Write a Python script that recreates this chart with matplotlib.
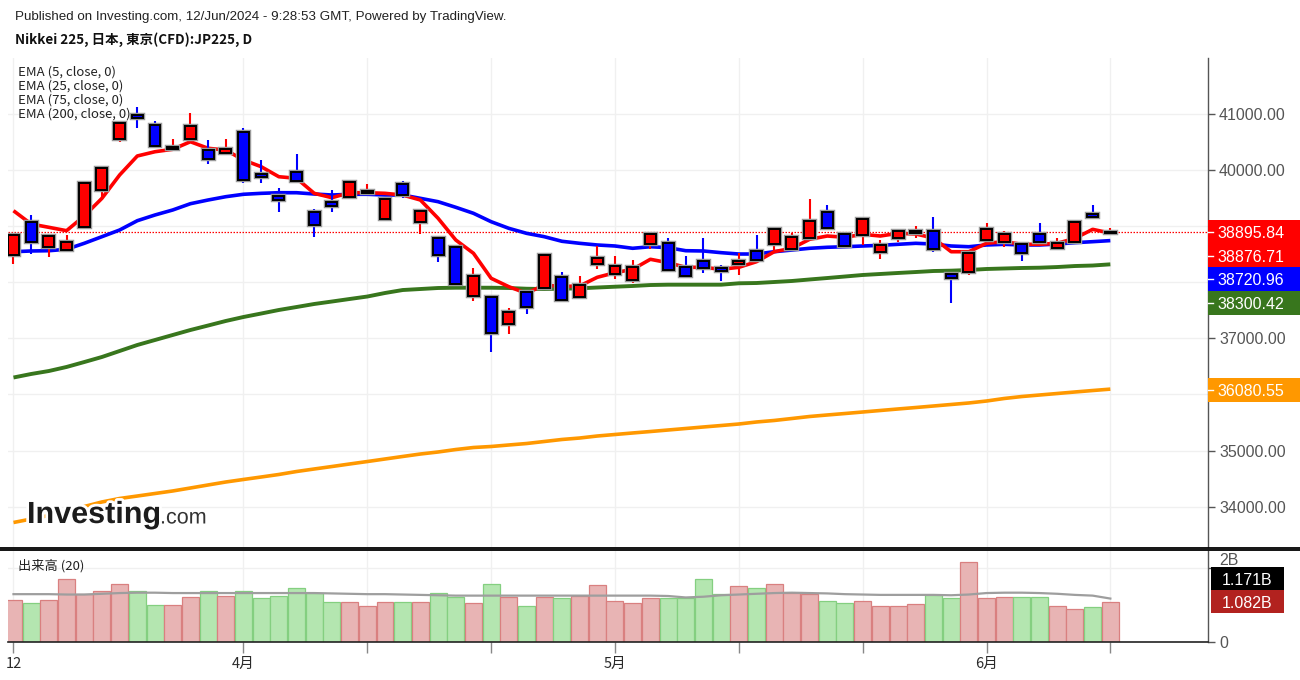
import matplotlib
matplotlib.use("Agg")
import matplotlib.pyplot as plt
from matplotlib.patches import Rectangle
from matplotlib.lines import Line2D
import matplotlib.patheffects as pe
import numpy as np

# ---------------- data ----------------
opens = [38486, 39069, 38624, 38575, 38991, 39640, 40549, 40982, 40810, 40376,
         40549, 40358, 40300, 40679, 39931, 39538, 39961, 39258, 39426, 39526,
         39592, 39123, 39747, 39069, 38784, 38624, 37761, 37743, 37251, 37821,
         37893, 38089, 37732, 38326, 38142, 38041, 38677, 38706, 38267, 38385,
         38249, 38320, 38563, 38677, 38593, 38784, 39258, 38855, 38838, 38545,
         38784, 38873, 38914, 38142, 38189, 38754, 38724, 38677, 38861, 38617,
         38724, 39212, 38870]
highs = [38879, 39200, 38843, 38843, 39800, 40043, 40845, 41130, 40876, 40549,
         41013, 40537, 40549, 40745, 40180, 39676, 40287, 39301, 39645, 39806,
         39752, 39508, 39806, 39271, 38807, 38647, 38260, 37773, 37536, 37862,
         38504, 38178, 38117, 38652, 38463, 38392, 38896, 38784, 38468, 38784,
         38308, 38517, 38843, 38980, 38873, 39485, 39378, 38902, 39164, 38754,
         38923, 39003, 39169, 38189, 38522, 39057, 38920, 38700, 39062, 38784,
         39110, 39378, 38962]
lows = [38326, 38504, 38456, 38563, 38986, 39497, 40506, 40745, 40420, 40368,
        40537, 40103, 40287, 39765, 39765, 39248, 39788, 38813, 39248, 39520,
        39556, 39110, 39497, 38855, 38367, 37951, 37671, 36762, 37078, 37429,
        37880, 37666, 37696, 38231, 38064, 37992, 38588, 38210, 38103, 38160,
        38028, 38130, 38367, 38575, 38584, 38771, 38968, 38647, 38665, 38415,
        38724, 38795, 38545, 37636, 38124, 38745, 38634, 38385, 38695, 38611,
        38718, 39123, 38855]
closes = [38843, 38724, 38830, 38724, 39770, 40032, 40835, 40924, 40435, 40412,
          40786, 40193, 40382, 39818, 39872, 39467, 39800, 39016, 39360, 39793,
          39628, 39480, 39556, 39265, 38481, 37969, 38112, 37090, 37470, 37564,
          38486, 37684, 37946, 38427, 38296, 38267, 38861, 38219, 38112, 38249,
          38196, 38379, 38397, 38944, 38802, 39098, 38973, 38652, 39128, 38665,
          38914, 38914, 38588, 38082, 38517, 38944, 38861, 38517, 38724, 38695,
          39069, 39158, 38896]

ema5 = [39276, 39039, 38980, 38920, 39182, 39497, 39913, 40252, 40328, 40371,
        40506, 40389, 40358, 40180, 40061, 39882, 39854, 39586, 39508, 39597,
        39597, 39586, 39556, 39467, 39141, 38754, 38517, 38071, 37921, 37803,
        37951, 37925, 37934, 38089, 38171, 38231, 38410, 38349, 38267, 38267,
        38231, 38267, 38367, 38545, 38606, 38766, 38825, 38802, 38855, 38825,
        38873, 38861, 38789, 38545, 38545, 38695, 38724, 38677, 38677, 38695,
        38784, 38944, 38877]
ema25 = [38545, 38558, 38563, 38588, 38695, 38813, 38932, 39098, 39200, 39289,
         39401, 39467, 39526, 39569, 39586, 39597, 39597, 39574, 39556, 39569,
         39569, 39556, 39556, 39497, 39437, 39337, 39230, 39080, 38962, 38873,
         38813, 38731, 38695, 38665, 38647, 38606, 38634, 38617, 38563, 38558,
         38528, 38504, 38504, 38545, 38575, 38606, 38624, 38634, 38647, 38659,
         38677, 38695, 38682, 38647, 38634, 38665, 38677, 38665, 38665, 38682,
         38706, 38724, 38743]
ema75 = [36302, 36365, 36418, 36490, 36578, 36668, 36775, 36882, 36971, 37060,
         37149, 37229, 37310, 37381, 37443, 37506, 37559, 37613, 37657, 37702,
         37746, 37809, 37862, 37880, 37898, 37903, 37903, 37903, 37898, 37885,
         37880, 37885, 37892, 37907, 37921, 37934, 37951, 37957, 37957, 37957,
         37957, 37982, 37987, 38005, 38023, 38050, 38076, 38103, 38130, 38148,
         38166, 38183, 38201, 38207, 38219, 38237, 38246, 38255, 38260, 38272,
         38290, 38299, 38320]
ema200 = [33717, 33779, 33842, 33922, 34002, 34083, 34145, 34189, 34234, 34279,
          34332, 34386, 34439, 34484, 34528, 34573, 34626, 34671, 34715, 34760,
          34804, 34849, 34894, 34938, 34974, 35018, 35054, 35072, 35099, 35125,
          35161, 35197, 35223, 35259, 35286, 35313, 35339, 35366, 35393, 35420,
          35446, 35473, 35509, 35536, 35571, 35607, 35634, 35660, 35687, 35714,
          35741, 35767, 35794, 35821, 35848, 35883, 35928, 35963, 35990, 36017,
          36044, 36070, 36095]

volume_b = [1.135, 1.044, 1.135, 1.698, 1.281, 1.381, 1.580, 1.381, 0.999, 0.999,
            1.217, 1.381, 1.244, 1.381, 1.181, 1.244, 1.453, 1.308, 1.081, 1.081,
            0.972, 1.081, 1.081, 1.081, 1.335, 1.217, 1.044, 1.580, 1.217, 0.972,
            1.217, 1.181, 1.244, 1.535, 1.090, 1.044, 1.181, 1.181, 1.181, 1.698,
            1.290, 1.499, 1.453, 1.580, 1.308, 1.290, 1.090, 1.044, 1.090, 0.972,
            0.972, 1.017, 1.262, 1.181, 2.153, 1.181, 1.217, 1.217, 1.217, 0.972,
            0.899, 0.945, 1.082]
volume_ma_b = [1.29, 1.29, 1.29, 1.28, 1.28, 1.30, 1.32, 1.33, 1.33, 1.32,
               1.32, 1.32, 1.32, 1.32, 1.32, 1.32, 1.32, 1.32, 1.31, 1.30,
               1.29, 1.29, 1.28, 1.27, 1.26, 1.25, 1.25, 1.25, 1.25, 1.25,
               1.25, 1.25, 1.25, 1.25, 1.25, 1.25, 1.25, 1.24, 1.20, 1.22,
               1.26, 1.28, 1.30, 1.32, 1.33, 1.32, 1.31, 1.29, 1.28, 1.27,
               1.27, 1.27, 1.27, 1.26, 1.28, 1.32, 1.33, 1.33, 1.32, 1.30,
               1.27, 1.25, 1.17]

tick_index = [0, 13, 20, 27, 34, 41, 48, 55, 62]
tick_labels = ["12", "4月", "", "", "5月", "", "", "6月", ""]
price_ticks = [34000, 35000, 36000, 37000, 38000, 39000, 40000, 41000]
# labels of 36000/38000/39000 are covered by the value boxes in the reference
price_tick_labels = ["34000.00", "35000.00", "", "37000.00", "", "", "40000.00", "41000.00"]

last_labels = ["38895.84", "38876.71", "38720.96", "38300.42", "36080.55"]
last_values = [38895.84, 38876.71, 38720.96, 38300.42, 36080.55]
last_colors = ["#ff0000", "#ff0000", "#0000ff", "#38761d", "#ff9800"]
vol_labels = ["1.171B", "1.082B"]
vol_values = [1.171, 1.082]
vol_label_colors = ["#000000", "#b2221f"]

legend_lines = ["EMA (5, close, 0)", "EMA (25, close, 0)", "EMA (75, close, 0)",
                "EMA (200, close, 0)"]

# ---------------- figure ----------------
W_PX, H_PX = 1300, 680
fig = plt.figure(figsize=(13, 6.8), dpi=100)
fig.patch.set_facecolor("white")

def fx(px):
    return px / W_PX

def fy(py):
    return 1 - py / H_PX

LEFT, RIGHT = 8, 1208
MAIN_TOP, MAIN_BOT = 58, 547
VOL_TOP, VOL_BOT = 550.5, 641.5

ax = fig.add_axes([fx(LEFT), fy(MAIN_BOT), fx(RIGHT - LEFT), (MAIN_BOT - MAIN_TOP) / H_PX])
axv = fig.add_axes([fx(LEFT), fy(VOL_BOT), fx(RIGHT - LEFT), (VOL_BOT - VOL_TOP) / H_PX])

n = len(closes)
x = np.arange(n)
o = np.array(opens, float)
h = np.array(highs, float)
l = np.array(lows, float)
c = np.array(closes, float)
up = c >= o
cols = np.where(up, "#ff0000", "#0000ff")

XMIN, XMAX = -0.31, 67.52
for a in (ax, axv):
    a.set_xlim(XMIN, XMAX)
    a.set_facecolor("white")
    for s in ("top", "left"):
        a.spines[s].set_visible(False)
    a.spines["right"].set_color("#555555")
    a.spines["right"].set_linewidth(1.0)
    a.set_xticks(tick_index)
    a.grid(True, color="#f0f0f0", lw=1.0, zorder=0)
    a.set_axisbelow(True)
    a.yaxis.tick_right()
    a.tick_params(axis="y", colors="#555555", length=5, width=1,
                  labelsize=11.5, pad=3)

ax.spines["bottom"].set_visible(False)
ax.set_ylim(33280, 41999)
ax.set_yticks(price_ticks)
ax.set_yticklabels(price_tick_labels, family="Liberation Sans")
ax.tick_params(axis="x", length=0, labelbottom=False)

# EMA lines (behind candles)
ax.plot(x, ema200, color="#ff9800", lw=2.6, zorder=2, solid_capstyle="butt")
ax.plot(x, ema75, color="#38761d", lw=2.8, zorder=2, solid_capstyle="butt")
ax.plot(x, ema25, color="#0000ff", lw=2.6, zorder=2, solid_capstyle="butt")
ax.plot(x, ema5, color="#ff0000", lw=2.6, zorder=2, solid_capstyle="butt")

ax.axhline(last_values[0], color="#ff0000", lw=0.9, ls=(0, (1.2, 1.2)), zorder=1.5)

# candles
ax.vlines(x, l, h, colors=cols, lw=1.5, zorder=3)
body_bot = np.minimum(o, c)
body_h = np.maximum(np.abs(c - o), 35)
bw = 0.62
ax.bar(x, body_h, bottom=body_bot, width=bw, color="none", edgecolor="#9a9a9a",
       linewidth=3.2, zorder=3.5)
ax.bar(x, body_h, bottom=body_bot, width=bw, color=cols, edgecolor="black",
       linewidth=1.4, zorder=4)

# volume
vol = np.array(volume_b)
vfill = np.where(up, "#e8b4b4", "#b4e6b0")
vedge = np.where(up, "#d98080", "#84cf80")
axv.bar(x, vol, width=0.96, color=vfill, edgecolor=vedge, linewidth=0.9, zorder=2)
axv.plot(x, volume_ma_b, color="#9e9e9e", lw=1.6, zorder=3)
axv.set_ylim(0, (VOL_BOT - VOL_TOP) / 36.7)
axv.set_yticks([0, 2])
axv.set_yticklabels(["0", "2B"], family="Liberation Sans")
axv.spines["bottom"].set_color("#222222")
axv.spines["bottom"].set_linewidth(1.2)
axv.set_xticklabels(tick_labels, family=["Noto Sans CJK JP", "DejaVu Sans"],
                    fontsize=10.5, color="#333333")
axv.tick_params(axis="x", length=8, width=1, colors="#888888", pad=3)
for lab in axv.get_xticklabels():
    lab.set_color("#2a2a2a")
# the "2B" label sits partly under the 1.171B box: nudge it up like the reference
for lab in axv.get_yticklabels():
    if lab.get_text() == "2B":
        lab.set_va("bottom")

# separator double line
for yy in (547.8, 549.8):
    fig.add_artist(Line2D([0, 1], [fy(yy), fy(yy)], color="black", lw=1.3))

# ---------------- last value labels ----------------
def stack_down(axis, values, height):
    ys = [H_PX - axis.transData.transform((0, v))[1] for v in values]
    out = []
    prev = None
    for yv in ys:
        if prev is not None and yv < prev + height:
            yv = prev + height
        out.append(yv)
        prev = yv
    return out

box_h = 23.6
ys_px = stack_down(ax, last_values, box_h)
for txt, yc, colr in zip(last_labels, ys_px, last_colors):
    fig.add_artist(Rectangle((fx(RIGHT), fy(yc + box_h / 2)), fx(W_PX - RIGHT),
                             box_h / H_PX, transform=fig.transFigure,
                             facecolor=colr, edgecolor="none", zorder=5))
    fig.add_artist(Line2D([fx(RIGHT), fx(RIGHT + 5)], [fy(yc), fy(yc)],
                          color="white", lw=1, zorder=6))
    fig.text(fx(1217), fy(yc), txt, color="white", fontsize=11.5,
             family="Liberation Sans", ha="left", va="center_baseline", zorder=7)

# volume labels: lower one stays, upper pushed up
vy = [H_PX - axv.transData.transform((0, v))[1] for v in vol_values]
vbox_h = 23
vy_last = vy[1]
vy_ma = min(vy[0], vy_last - vbox_h)
for txt, yc, colr in zip(vol_labels, [vy_ma, vy_last], vol_label_colors):
    fig.add_artist(Rectangle((fx(1211), fy(yc + vbox_h / 2)), fx(73),
                             vbox_h / H_PX, transform=fig.transFigure,
                             facecolor=colr, edgecolor="none", zorder=5))
    fig.text(fx(1247), fy(yc), txt, color="white", fontsize=11.5,
             family="Liberation Sans", ha="center", va="center_baseline", zorder=7)

# ---------------- texts ----------------
fig.text(fx(15), fy(17), "Published on Investing.com, 12/Jun/2024 - 9:28:53 GMT, Powered by TradingView.",
         fontsize=9.6, family="Liberation Sans", color="#222222", va="center")
fig.text(fx(15), fy(40), "Nikkei 225, 日本, 東京(CFD):JP225, D",
         fontsize=9.7, family=["Noto Sans CJK JP", "DejaVu Sans"], weight="bold",
         color="#111111", va="center")
for i, t in enumerate(legend_lines):
    fig.text(fx(18), fy(72 + 14 * i), t, fontsize=9.5,
             family=["Noto Sans CJK JP", "DejaVu Sans"], color="#222222", va="center")
fig.text(fx(18), fy(566), "出来高 (20)", fontsize=9.5,
         family=["Noto Sans CJK JP", "DejaVu Sans"], color="#222222", va="center")

logo_fx = [pe.withStroke(linewidth=4, foreground="white")]
fig.text(fx(27), fy(515), "Investing", fontsize=22, weight="bold",
         family="Liberation Sans", color="#1c1c1c", va="center",
         path_effects=logo_fx, zorder=4)
fig.text(fx(160), fy(518), ".com", fontsize=15.5, family="Liberation Sans",
         color="#333333", va="center", path_effects=logo_fx, zorder=4)

fig.savefig("out.png", dpi=100, facecolor="white")
